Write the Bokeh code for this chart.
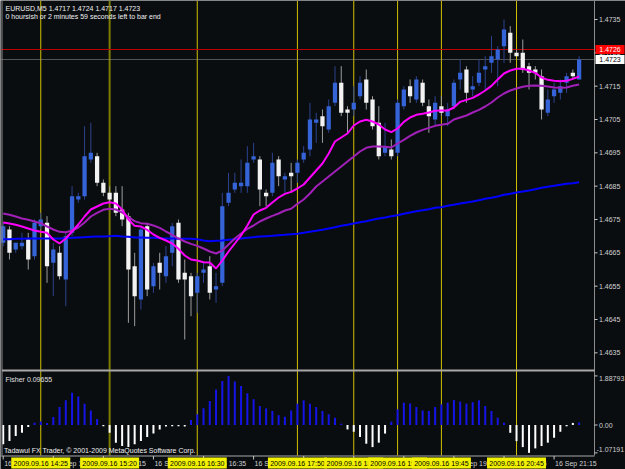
from bokeh.plotting import figure
from bokeh.models import Range1d
from bokeh.core.properties import value
from bokeh.embed import file_html
from bokeh.resources import INLINE

# ---------------- data ----------------
symbol_header = "EURUSD,M5  1.4717 1.4724 1.4717 1.4723"
timer_text = "0 hoursish or 2 minutes 59 seconds left to bar end"
fisher_text = "Fisher 0.09655"
copyright_text = "Tadawul FX Trader, \u00a9 2001-2009 MetaQuotes Software Corp."

opens = [1.4668, 1.4672, 1.4666, 1.4667, 1.4669, 1.4664, 1.4673, 1.4674, 1.4662, 1.4665,
         1.4657, 1.4671, 1.4681, 1.4682, 1.4693, 1.4694, 1.4686, 1.4683, 1.4683, 1.4678,
         1.4676, 1.4661, 1.4651, 1.4673, 1.4655, 1.4662, 1.4658, 1.4665, 1.4674, 1.4659,
         1.4658, 1.4653, 1.4659, 1.4661, 1.4654, 1.4656, 1.4680, 1.4684, 1.4685, 1.4685,
         1.4693, 1.4693, 1.4683, 1.4683, 1.4693, 1.4687, 1.4689, 1.4689, 1.4693, 1.4696,
         1.4704, 1.4706, 1.4702, 1.4710, 1.4716, 1.4708, 1.4708, 1.4712, 1.4717, 1.4711,
         1.4704, 1.4695, 1.4696, 1.4695, 1.4709, 1.4715, 1.4711, 1.4716, 1.4709, 1.4705,
         1.4709, 1.4706, 1.4709, 1.4717, 1.4720, 1.4714, 1.4716, 1.4720, 1.4722, 1.4723,
         1.4727, 1.4731, 1.4725, 1.4725, 1.4721, 1.4720, 1.4718, 1.4707, 1.4712, 1.4713,
         1.4716, 1.4719, 1.4717]
highs = [1.4674, 1.4673, 1.4668, 1.4671, 1.4671, 1.4675, 1.4677, 1.4676, 1.4668, 1.4667,
         1.4671, 1.4685, 1.4683, 1.4703, 1.4704, 1.4695, 1.4687, 1.4685, 1.4685, 1.4685,
         1.4677, 1.4665, 1.4673, 1.4674, 1.4662, 1.4665, 1.4667, 1.4674, 1.4675, 1.4663,
         1.4659, 1.4659, 1.4662, 1.4664, 1.4659, 1.4683, 1.4689, 1.4689, 1.4693, 1.4697,
         1.4698, 1.4694, 1.4684, 1.4695, 1.4694, 1.4689, 1.4692, 1.4693, 1.4697, 1.4710,
         1.4707, 1.4708, 1.4711, 1.4721, 1.4721, 1.4709, 1.4715, 1.4718, 1.4720, 1.4712,
         1.4709, 1.4704, 1.4699, 1.4711, 1.4715, 1.4717, 1.4718, 1.4717, 1.4711, 1.4712,
         1.4712, 1.4710, 1.4717, 1.4723, 1.4721, 1.4718, 1.4723, 1.4724, 1.4730, 1.4727,
         1.4735, 1.4733, 1.4726, 1.4729, 1.4722, 1.4721, 1.4720, 1.4714, 1.4716, 1.4717,
         1.4719, 1.4720, 1.4724]
lows = [1.4667, 1.4663, 1.4665, 1.4666, 1.4660, 1.4663, 1.4672, 1.4656, 1.4652, 1.4657,
        1.4649, 1.4670, 1.4680, 1.4681, 1.4692, 1.4685, 1.4682, 1.4680, 1.4676, 1.4673,
        1.4644, 1.4643, 1.4648, 1.4652, 1.4653, 1.4654, 1.4656, 1.4661, 1.4656, 1.4639,
        1.4646, 1.4647, 1.4656, 1.4651, 1.4650, 1.4655, 1.4679, 1.4683, 1.4683, 1.4683,
        1.4692, 1.4679, 1.4679, 1.4682, 1.4685, 1.4683, 1.4683, 1.4686, 1.4692, 1.4694,
        1.4698, 1.4698, 1.4701, 1.4709, 1.4706, 1.4701, 1.4706, 1.4711, 1.4708, 1.4702,
        1.4693, 1.4694, 1.4693, 1.4694, 1.4708, 1.4710, 1.4710, 1.4709, 1.4701, 1.4703,
        1.4706, 1.4703, 1.4708, 1.4714, 1.4710, 1.4712, 1.4715, 1.4714, 1.4719, 1.4715,
        1.4722, 1.4722, 1.4724, 1.4719, 1.4714, 1.4717, 1.4705, 1.4706, 1.4710, 1.4711,
        1.4713, 1.4717, 1.4717]
closes = [1.4673, 1.4665, 1.4668, 1.4668, 1.4663, 1.4674, 1.4675, 1.4661, 1.4666, 1.4658,
          1.4670, 1.4682, 1.4682, 1.4694, 1.4695, 1.4686, 1.4683, 1.4681, 1.4677, 1.4675,
          1.4660, 1.4652, 1.4672, 1.4654, 1.4661, 1.4659, 1.4664, 1.4673, 1.4657, 1.4657,
          1.4652, 1.4658, 1.4660, 1.4653, 1.4655, 1.4679, 1.4683, 1.4686, 1.4686, 1.4692,
          1.4694, 1.4684, 1.4682, 1.4692, 1.4688, 1.4688, 1.4688, 1.4692, 1.4695, 1.4705,
          1.4705, 1.4703, 1.4709, 1.4716, 1.4707, 1.4707, 1.4710, 1.4716, 1.4710, 1.4703,
          1.4694, 1.4697, 1.4694, 1.4710, 1.4714, 1.4712, 1.4717, 1.4710, 1.4706, 1.4710,
          1.4707, 1.4708, 1.4716, 1.4719, 1.4713, 1.4715, 1.4719, 1.4721, 1.4724, 1.4726,
          1.4732, 1.4725, 1.4724, 1.4720, 1.4719, 1.4719, 1.4708, 1.4711, 1.4714, 1.4715,
          1.4718, 1.4718, 1.4723]

ma_fast = [1.46741, 1.46738, 1.46734, 1.46729, 1.46723, 1.46717, 1.46713, 1.46710, 1.46690, 1.46678,
           1.46693, 1.46714, 1.46735, 1.46759, 1.46780, 1.46789, 1.46798, 1.46802, 1.46798, 1.46780,
           1.46750, 1.46731, 1.46729, 1.46719, 1.46705, 1.46695, 1.46687, 1.46678, 1.46662, 1.46642,
           1.46630, 1.46627, 1.46622, 1.46621, 1.46603, 1.46627, 1.46654, 1.46678, 1.46702, 1.46732,
           1.46765, 1.46777, 1.46785, 1.46801, 1.46816, 1.46827, 1.46833, 1.46843, 1.46855, 1.46876,
           1.46897, 1.46918, 1.46948, 1.46984, 1.46996, 1.47008, 1.47032, 1.47044, 1.47049, 1.47044,
           1.47035, 1.47020, 1.47012, 1.47023, 1.47043, 1.47056, 1.47064, 1.47067, 1.47071, 1.47076,
           1.47077, 1.47077, 1.47086, 1.47103, 1.47109, 1.47115, 1.47125, 1.47137, 1.47151, 1.47170,
           1.47188, 1.47197, 1.47202, 1.47202, 1.47197, 1.47190, 1.47176, 1.47169, 1.47166, 1.47165,
           1.47166, 1.47172, 1.47179]
ma_slow = [1.46768, 1.46764, 1.46759, 1.46753, 1.46749, 1.46744, 1.46739, 1.46729, 1.46720, 1.46713,
           1.46712, 1.46717, 1.46726, 1.46741, 1.46759, 1.46770, 1.46779, 1.46782, 1.46780, 1.46771,
           1.46757, 1.46745, 1.46739, 1.46737, 1.46732, 1.46725, 1.46714, 1.46704, 1.46693, 1.46684,
           1.46677, 1.46671, 1.46663, 1.46654, 1.46648, 1.46657, 1.46675, 1.46693, 1.46708, 1.46722,
           1.46732, 1.46744, 1.46753, 1.46761, 1.46768, 1.46777, 1.46782, 1.46797, 1.46810, 1.46828,
           1.46849, 1.46864, 1.46879, 1.46894, 1.46909, 1.46924, 1.46939, 1.46954, 1.46965, 1.46969,
           1.46969, 1.46968, 1.46966, 1.46978, 1.46989, 1.47001, 1.47011, 1.47019, 1.47025, 1.47031,
           1.47034, 1.47037, 1.47050, 1.47056, 1.47062, 1.47071, 1.47079, 1.47089, 1.47101, 1.47116,
           1.47128, 1.47137, 1.47143, 1.47148, 1.47151, 1.47152, 1.47151, 1.47149, 1.47146, 1.47145,
           1.47146, 1.47151, 1.47155]
ma_long = [1.46691, 1.46691, 1.46692, 1.46692, 1.46693, 1.46693, 1.46693, 1.46693, 1.46693, 1.46693,
           1.46694, 1.46695, 1.46696, 1.46697, 1.46698, 1.46699, 1.46699, 1.46700, 1.46701, 1.46699,
           1.46698, 1.46696, 1.46696, 1.46695, 1.46695, 1.46694, 1.46693, 1.46693, 1.46692, 1.46692,
           1.46692, 1.46691, 1.46687, 1.46685, 1.46686, 1.46687, 1.46689, 1.46691, 1.46693, 1.46695,
           1.46697, 1.46699, 1.46700, 1.46701, 1.46703, 1.46704, 1.46706, 1.46707, 1.46710, 1.46713,
           1.46716, 1.46719, 1.46723, 1.46727, 1.46731, 1.46734, 1.46738, 1.46742, 1.46745, 1.46749,
           1.46753, 1.46756, 1.46760, 1.46763, 1.46767, 1.46771, 1.46775, 1.46778, 1.46781, 1.46785,
           1.46787, 1.46791, 1.46794, 1.46798, 1.46801, 1.46804, 1.46808, 1.46812, 1.46815, 1.46819,
           1.46824, 1.46827, 1.46831, 1.46834, 1.46837, 1.46841, 1.46845, 1.46848, 1.46851, 1.46854,
           1.46857, 1.46859, 1.46862]

fisher = [-0.74, -0.62, -0.42, -0.30, -0.08, 0.09, 0.13, 0.08, 0.31, 0.69,
          0.95, 1.24, 1.10, 0.82, 0.56, 0.23, -0.05, -0.30, -0.68, -0.81,
          -0.85, -0.74, -0.62, -0.46, -0.33, -0.17, -0.06, -0.05, -0.05, -0.06,
          0.19, 0.41, 0.64, 0.92, 1.37, 1.69, 1.88793, 1.67, 1.50, 1.22,
          0.99, 0.73, 0.64, 0.54, 0.38, 0.32, 0.56, 0.82, 0.95, 0.82,
          0.69, 0.54, 0.41, 0.28, 0.05, -0.17, -0.26, -0.46, -0.72, -0.85,
          -0.68, -0.33, 0.13, 0.60, 0.86, 0.83, 0.69, 0.56, 0.54, 0.69,
          0.79, 0.86, 0.96, 0.90, 0.82, 0.88, 0.95, 0.73, 0.54, 0.28,
          0.09, -0.30, -0.62, -0.85, -1.07191, -0.90, -0.81, -0.68, -0.49, -0.26,
          -0.05, 0.08, 0.09655]
fisher_down_buffer = [91]   # bar drawn in the "down" (white) buffer although above zero

price_ticks = [1.4735, 1.4725, 1.4715, 1.4705, 1.4695, 1.4685, 1.4675, 1.4665, 1.4655, 1.4645, 1.4635]
fisher_ticks = [1.88793, 0.0, -1.07191]
fisher_tick_labels = ["1.88793", "0.00", "-1.07191"]
ask_price = 1.4726
bid_price = 1.4723

time_tick_bars = [0, 8, 16, 24, 32, 40, 48, 56, 64, 72, 80, 88]
time_tick_labels = ["16 Sep 13:55", "16 Sep 14:35", "16 Sep 15:15", "16 Sep 15:55", "16 Sep 16:35",
                    "16 Sep 17:15", "16 Sep 17:55", "16 Sep 18:35", "16 Sep 19:15", "16 Sep 19:55",
                    "16 Sep 20:35", "16 Sep 21:15"]
vline_bars = [6, 17, 31, 47, 56, 63, 70, 82]
vline_labels = ["2009.09.16 14:25", "2009.09.16 15:20", "2009.09.16 16:30", "2009.09.16 17:50",
                "2009.09.16 18:35", "2009.09.16 19:10", "2009.09.16 19:45", "2009.09.16 20:45"]

# ---------------- layout helpers (screen pixel -> data) ----------------
W, H = 625, 469
X0, DX = 2.7, 6.26           # pixel of bar 0, pixels per bar
P_TOP, PPX = 1.47407, 0.00003  # price at top pixel, price per pixel
F0, FPX = 424.5, 26.0        # fisher zero pixel, pixels per unit


def sx(px):
    return (px - X0) / DX


def sy(py):
    return P_TOP - PPX * py


def fy(py):
    return (F0 - py) / FPX


BG = "#0a0d10"
FONT = "Liberation Sans"
FS = "7px"
GRID = "#8c8c8c"

p = figure(width=W, height=H, x_range=Range1d(sx(0), sx(W)), y_range=Range1d(sy(H), sy(0)),
           toolbar_location=None, output_backend="svg", min_border=0,
           x_axis_type=None, y_axis_type=None, background_fill_color=BG,
           border_fill_color=BG, outline_line_color=None)
p.extra_y_ranges = {"fish": Range1d(fy(H), fy(0))}

n = len(opens)
idx = list(range(n))

# vertical period lines (under everything)
vcol = ["#d2c000" if b != 17 else "#7c7c00" for b in vline_bars]
vw = [1 if b != 17 else 2 for b in vline_bars]
p.segment(x0=vline_bars, y0=[sy(455)] * len(vline_bars), x1=vline_bars, y1=[sy(0)] * len(vline_bars),
          line_color=vcol, line_width=vw)

# ask / bid lines
p.segment(x0=[sx(0)], y0=[ask_price], x1=[sx(594)], y1=[ask_price], line_color="#c00000", line_width=1)
p.segment(x0=[sx(0)], y0=[bid_price], x1=[sx(594)], y1=[bid_price], line_color="#9a9a9a",
          line_width=1, line_dash="1 1")

# candles
bull = [c > o for o, c in zip(opens, closes)]
wick_col = ["#2c438e" if b else "#9c9c9c" for b in bull]
body_col = ["#3563d8" if b else "#f2f2f2" for b in bull]
p.segment(x0=idx, y0=lows, x1=idx, y1=highs, line_color=wick_col, line_width=1)
p.vbar(x=idx, width=0.68, top=[max(o, c) for o, c in zip(opens, closes)],
       bottom=[min(o, c) for o, c in zip(opens, closes)], fill_color=body_col, line_color=None)

# moving averages
p.line(idx, ma_long, line_color="#0000ff", line_width=2)
p.line(idx, ma_slow, line_color="#a020b8", line_width=2)
p.line(idx, ma_fast, line_color="#ff00ff", line_width=2)

# fisher histogram
fcol = ["#1414e6" if (v > 0 and i not in fisher_down_buffer) else "#ffffff" for i, v in enumerate(fisher)]
p.segment(x0=idx, y0=[0] * n, x1=idx, y1=fisher, line_color=fcol, line_width=2,
          line_cap="butt", y_range_name="fish")

# frame lines
p.segment(x0=[sx(1.5), sx(594)], y0=[sy(0), sy(0)], x1=[sx(1.5), sx(594)], y1=[sy(455), sy(455)],
          line_color=GRID, line_width=1)
p.segment(x0=[sx(1.5), sx(0)], y0=[sy(370), sy(455.5)], x1=[sx(594), sx(594)], y1=[sy(370), sy(455.5)],
          line_color="#a8a8a8", line_width=[2, 1])

# price axis
p.segment(x0=[sx(594)] * len(price_ticks), y0=price_ticks, x1=[sx(597)] * len(price_ticks), y1=price_ticks,
          line_color="#c8c8c8", line_width=1)
p.text(x=[sx(598.5)] * len(price_ticks), y=price_ticks, text=["%.4f" % v for v in price_ticks],
       text_baseline="middle", text_align="left", text_font=value(FONT), text_font_size=FS,
       text_color="#d0d0d0")
p.segment(x0=[sx(594)] * 3, y0=fisher_ticks, x1=[sx(597)] * 3, y1=fisher_ticks,
          line_color="#c8c8c8", line_width=1, y_range_name="fish")
p.text(x=[sx(598.5)] * 3, y=fisher_ticks, text=fisher_tick_labels, y_offset=[2.5, 0, -3],
       x_offset=[0, 0, -2.5], text_baseline="middle", text_align="left", text_font=value(FONT),
       text_font_size=FS, text_color="#d0d0d0", y_range_name="fish")

# ask / bid labels
p.rect(x=[sx(609.5)], y=[ask_price], width=29, height=9, width_units="screen", height_units="screen",
       fill_color="#ff0000", line_color=None)
p.text(x=[sx(609.5)], y=[ask_price], text=["%.4f" % ask_price], text_align="center", text_baseline="middle",
       text_font=value(FONT), text_font_size=FS, text_color="#ffffff")
p.rect(x=[sx(609.5)], y=[bid_price], width=29, height=9, width_units="screen", height_units="screen",
       fill_color="#ffffff", line_color=None)
p.text(x=[sx(609.5)], y=[bid_price], text=["%.4f" % bid_price], text_align="center", text_baseline="middle",
       text_font=value(FONT), text_font_size=FS, text_color="#000000")

# time axis
p.segment(x0=time_tick_bars, y0=[sy(455.5)] * len(time_tick_bars), x1=time_tick_bars,
          y1=[sy(459)] * len(time_tick_bars), line_color="#c8c8c8", line_width=1)
p.text(x=time_tick_bars, y=[sy(462.5)] * len(time_tick_bars), text=time_tick_labels, x_offset=1,
       text_baseline="middle", text_align="left", text_font=value(FONT), text_font_size=FS,
       text_color="#d0d0d0")
for b, lab in zip(vline_bars, vline_labels):
    p.rect(x=[b], y=[sy(462.5)], width=59, height=11, width_units="screen", height_units="screen",
           fill_color="#f2f200", line_color=None)
    p.text(x=[b], y=[sy(462.5)], text=[lab], text_align="center", text_baseline="middle",
           text_font=value(FONT), text_font_size=FS, text_color="#000000")

# header and captions
p.text(x=[sx(5), sx(5)], y=[sy(7.5), sy(15.5)], text=[symbol_header, timer_text],
       text_baseline="middle", text_align="left", text_font=value(FONT), text_font_size=FS,
       text_color="#f0f0f0")
p.text(x=[sx(5)], y=[sy(378.5)], text=[fisher_text], text_baseline="middle", text_align="left",
       text_font=value(FONT), text_font_size=FS, text_color="#e0e0e0")
p.text(x=[sx(3.5)], y=[sy(449.5)], text=[copyright_text], text_baseline="middle", text_align="left",
       text_font=value(FONT), text_font_size=FS, text_color="#f0f0f0")

with open("out.html", "w", encoding="utf-8") as f:
    f.write(file_html(p, INLINE))
